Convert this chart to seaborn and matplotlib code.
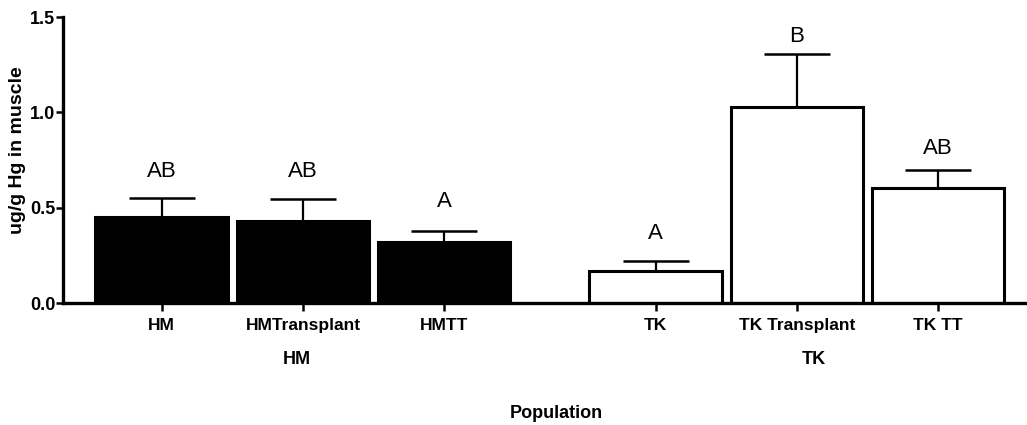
import matplotlib
matplotlib.use("Agg")
import matplotlib.pyplot as plt
import matplotlib.transforms as mtransforms
import seaborn as sns
import pandas as pd
import numpy as np

# ---- data ----
labels = ["HM", "HMTransplant", "HMTT", "TK", "TK Transplant", "TK TT"]
groups = ["HM", "HM", "HM", "TK", "TK", "TK"]
positions = [0, 1, 2, 3.5, 4.5, 5.5]
means = [0.45, 0.432, 0.322, 0.170, 1.030, 0.602]
sem = [0.100, 0.112, 0.056, 0.052, 0.275, 0.096]
letters = ["AB", "AB", "A", "A", "B", "AB"]
letter_y = [0.69, 0.69, 0.53, 0.367, 1.40, 0.81]
group_names = ["HM", "TK"]
yticks = [0.0, 0.5, 1.0, 1.5]

df = pd.DataFrame({"pos": positions, "mean": means, "group": groups})

sns.set_theme(style="ticks")
plt.rcParams["font.family"] = ["Liberation Sans", "DejaVu Sans"]
plt.rcParams["font.weight"] = "bold"
for k in ["text.color", "axes.labelcolor", "xtick.color", "ytick.color",
          "axes.edgecolor"]:
    plt.rcParams[k] = "black"

fig = plt.figure(figsize=(10.27, 4.25), dpi=100)
ax = fig.add_axes([63 / 1027, 1 - 303 / 425, 1 - 63 / 1027, (303 - 17) / 425])

sns.barplot(data=df, x="pos", y="mean", hue="group", native_scale=True,
            dodge=False, palette={"HM": "black", "TK": "white"},
            edgecolor="black", linewidth=2.2, width=0.94, errorbar=None,
            legend=False, ax=ax, zorder=2)

ax.errorbar(positions, means, yerr=[np.zeros(len(sem)), sem], fmt="none",
            ecolor="black", elinewidth=1.6, capsize=23.5, capthick=1.8,
            zorder=1)

for x, y, t in zip(positions, letter_y, letters):
    ax.text(x, y, t, ha="center", va="center", fontsize=16,
            fontweight="normal", color="black")

ax.set_xlim(-0.70, 6.13)
ax.set_ylim(0, 1.5)
ax.set_yticks(yticks)
ax.set_yticklabels([f"{v:.1f}" for v in yticks], fontsize=13, fontweight="bold")
ax.set_xticks(positions)
ax.set_xticklabels(labels, fontsize=12.5, fontweight="bold")
ax.tick_params(axis="x", length=6, width=1.8, pad=5, color="black",
               labelcolor="black")
ax.tick_params(axis="y", length=5, width=1.8, pad=0.5, color="black",
               labelcolor="black")

for s in ["top", "right"]:
    ax.spines[s].set_visible(False)
for s in ["left", "bottom"]:
    ax.spines[s].set_linewidth(2.4)
    ax.spines[s].set_color("black")

trans = mtransforms.blended_transform_factory(ax.transData, fig.transFigure)
for g in group_names:
    gx = np.mean([p for p, gg in zip(positions, groups) if gg == g])
    ax.text(gx + (-0.04 if g == "HM" else 0.12), 1 - 360 / 425, g,
            transform=trans, ha="center", va="center",
            fontsize=13, fontweight="bold", color="black")

ax.set_ylabel("ug/g Hg in muscle", fontsize=14, fontweight="bold",
              color="black")
ax.yaxis.set_label_coords(-(63 - 18) / (1027 - 63), (303 - 150) / (303 - 17))
ax.yaxis.label.set_va("center")
ax.set_xlabel("")
fig.text(556 / 1027, 1 - 413 / 425, "Population", ha="center", va="center",
         fontsize=13, fontweight="bold", color="black")

fig.savefig("out.png", dpi=100)
